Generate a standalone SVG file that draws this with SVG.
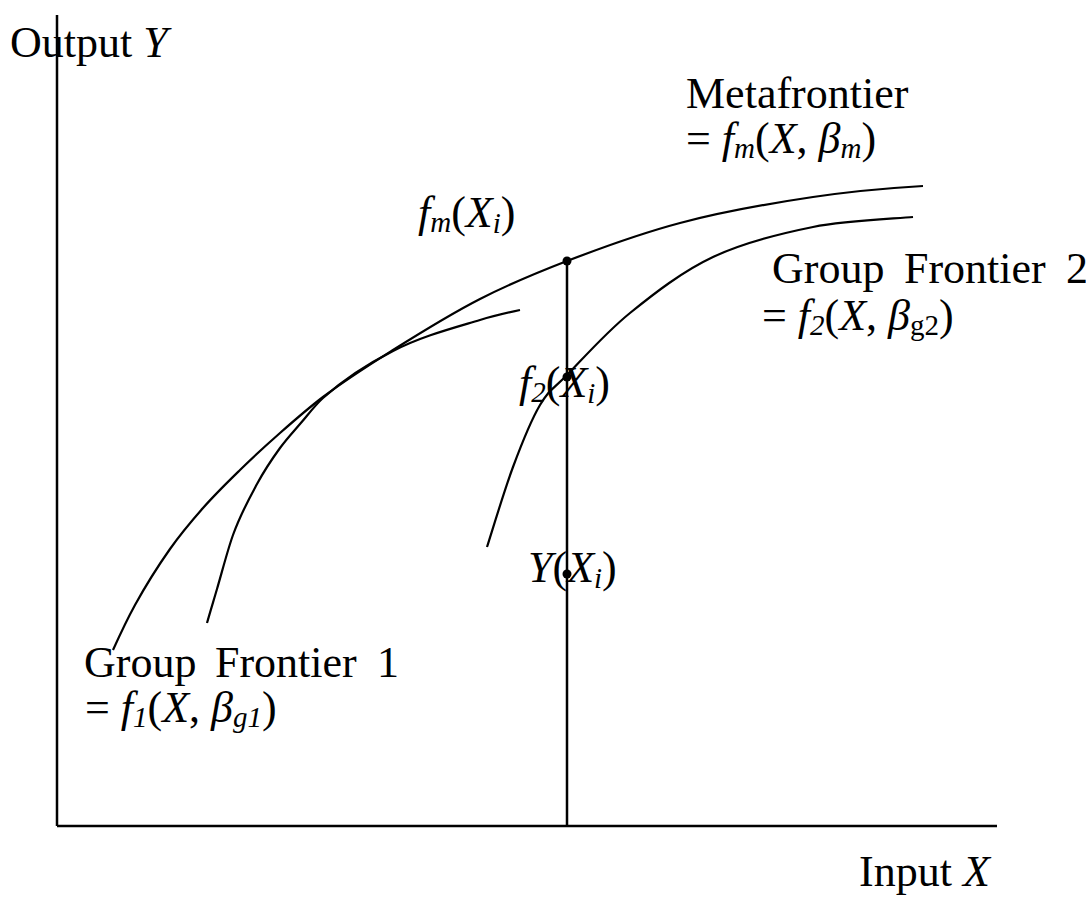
<svg xmlns="http://www.w3.org/2000/svg" width="1086" height="897" viewBox="0 0 1086 897">
<style>
.ax{stroke:#000;stroke-width:2.5;fill:none}
.cv{stroke:#000;stroke-width:2.2;fill:none}
.t{font-family:"Liberation Serif","Times New Roman",serif;font-size:44px;fill:#000}
.i{font-style:italic}
.s{font-size:29px}
</style>
<rect width="1086" height="897" fill="#fff"/>
<g id="connectors">
<path id="y-axis" class="ax" d="M57,15 V826"/>
<path id="x-axis" class="ax" d="M57,826 H997"/>
<path id="vline" class="ax" d="M567,261 V826"/>
<path id="metafrontier" class="cv" d="M113,650 C120.3,633.9 127.7,618.3 135,605 C146.7,583.8 158.3,565.6 170,549 C181,533.4 192,520.5 203,508 C215.3,494 227.7,482 240,470 C253.3,457 266.7,444.7 280,433 C294.3,420.4 308.7,407.8 323,397 C346.3,379.4 369.7,364.7 393,350 C422,331.8 451,313.8 480,299 C509,284.2 538,272.2 567,261 C604.7,246.5 642.3,233 680,223 C724.3,211.2 768.7,203.6 813,197 C849.7,191.6 886.3,188.2 923,186"/>
<path id="group1" class="cv" d="M207,623 C210.3,611.3 213.7,600.3 217,589 C222.3,570.9 227.7,549.7 233,535 C241,513 249,498.8 257,484 C264.7,469.8 272.3,458.6 280,448 C286.7,438.8 293.3,431.8 300,424 C307.7,415.1 315.3,404.9 323,398 C346.3,377 369.7,362.9 393,351 C422,336.2 451,328.7 480,320 C493.3,316 506.7,312.9 520,310"/>
<path id="group2" class="cv" d="M487,547 C491.3,533.7 504.2,490.7 513,467 C521.8,443.3 531,420.3 540,405 C549,389.7 552,390.3 567,375 C582,359.7 605.7,332.7 630,313 C654.3,293.3 682.5,271.3 713,257 C743.5,242.7 779.7,233.7 813,227 C846.3,220.3 896.3,218.7 913,217"/>
</g>
<g id="points">
<circle cx="567" cy="261" r="4.5"/>
<circle cx="567" cy="377" r="4.5"/>
<circle cx="567" cy="574" r="4.5"/>
</g>
<g id="label-output">
<text class="t" x="10" y="57">Output <tspan class="i">Y</tspan></text>
</g>
<g id="label-input">
<text class="t" x="859" y="886">Input <tspan class="i">X</tspan></text>
</g>
<g id="label-metafrontier">
<text class="t" x="686" y="108">Metafrontier</text>
<text class="t" x="686" y="153">= <tspan class="i">f</tspan><tspan class="i s" dy="5">m</tspan><tspan dy="-5">(</tspan><tspan class="i">X</tspan>, <tspan class="i">β</tspan><tspan class="i s" dy="5">m</tspan><tspan dy="-5">)</tspan></text>
</g>
<g id="label-fm">
<text class="t" x="418" y="227"><tspan class="i">f</tspan><tspan class="i s" dy="5">m</tspan><tspan dy="-5">(</tspan><tspan class="i">X</tspan><tspan class="i s" dy="6">i</tspan><tspan dy="-6">)</tspan></text>
</g>
<g id="label-group2">
<text class="t" y="283"><tspan x="772">Group</tspan><tspan x="904">Frontier</tspan><tspan x="1066">2</tspan></text>
<text class="t" x="762" y="330">= <tspan class="i">f</tspan><tspan class="i s" dy="5">2</tspan><tspan dy="-5">(</tspan><tspan class="i">X</tspan>, <tspan class="i">β</tspan><tspan class="s" dy="5">g2</tspan><tspan dy="-5">)</tspan></text>
</g>
<g id="label-f2">
<text class="t" x="519" y="397"><tspan class="i">f</tspan><tspan class="i s" dy="5">2</tspan><tspan dy="-5">(</tspan><tspan class="i">X</tspan><tspan class="i s" dy="6">i</tspan><tspan dy="-6">)</tspan></text>
</g>
<g id="label-y">
<text class="t" x="528" y="582"><tspan class="i">Y</tspan>(<tspan class="i">X</tspan><tspan class="i s" dy="6">i</tspan><tspan dy="-6">)</tspan></text>
</g>
<g id="label-group1">
<text class="t" y="677"><tspan x="84">Group</tspan><tspan x="215">Frontier</tspan><tspan x="377">1</tspan></text>
<text class="t" x="85" y="722">= <tspan class="i">f</tspan><tspan class="i s" dy="5">1</tspan><tspan dy="-5">(</tspan><tspan class="i">X</tspan>, <tspan class="i">β</tspan><tspan class="i s" dy="5">g1</tspan><tspan dy="-5">)</tspan></text>
</g>
</svg>
